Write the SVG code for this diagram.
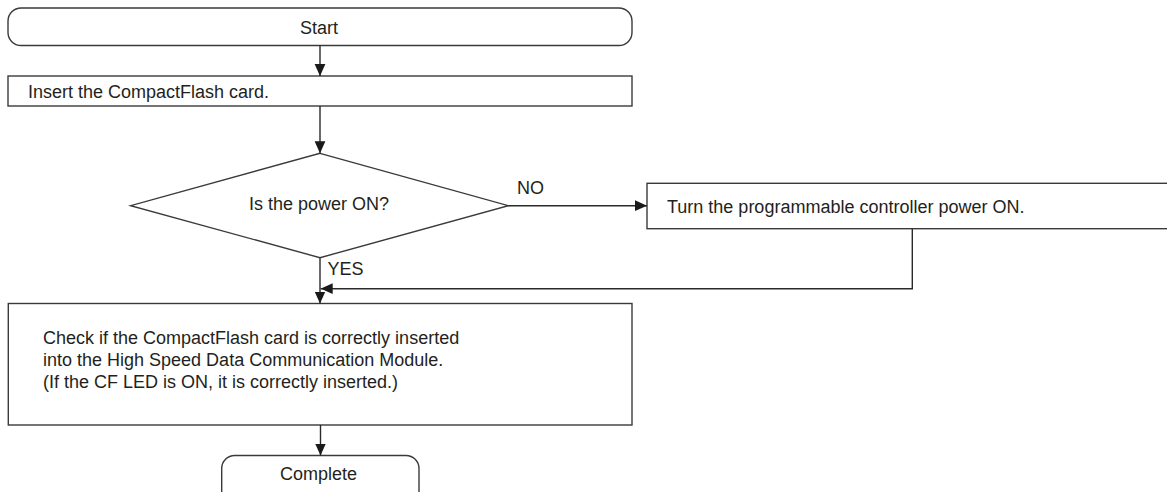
<svg xmlns="http://www.w3.org/2000/svg" width="1167" height="492" viewBox="0 0 1167 492">
<style>
.box{fill:#fff;stroke:#3a3a3a;stroke-width:1.4}
.ln{fill:none;stroke:#2a2a2a;stroke-width:1.4}
text{font-family:"Liberation Sans",Arial,sans-serif;font-size:18px;fill:#231f20}
.c{text-anchor:middle}
</style>
<defs>
<marker id="ah" markerUnits="userSpaceOnUse" markerWidth="12" markerHeight="12" viewBox="0 0 10 10" refX="10" refY="5" orient="auto">
<path d="M0,0.5 L10,5 L0,9.5 Z" fill="#1a1a1a"/>
</marker>
</defs>
<rect width="1167" height="492" fill="#fff"/>
<g id="start">
<rect class="box" x="8" y="8" width="624" height="37.5" rx="13" ry="13"/>
<text class="c" x="319" y="34">Start</text>
</g>
<g id="insert">
<rect class="box" x="8" y="76" width="624" height="30"/>
<text x="28" y="98">Insert the CompactFlash card.</text>
</g>
<g id="decision">
<polygon class="box" points="320,153.3 508.3,205.7 320,257.7 130.7,205.7"/>
<text class="c" x="319" y="210">Is the power ON?</text>
</g>
<g id="turnon">
<rect class="box" x="647" y="183.3" width="540" height="45.4"/>
<text x="667" y="213">Turn the programmable controller power ON.</text>
</g>
<g id="check">
<rect class="box" x="8.3" y="303.5" width="623.7" height="121.5"/>
<text x="43" y="343.5">Check if the CompactFlash card is correctly inserted</text>
<text x="43" y="365.5">into the High Speed Data Communication Module.</text>
<text x="43" y="387.5">(If the CF LED is ON, it is correctly inserted.)</text>
</g>
<g id="complete">
<rect class="box" x="221.7" y="455.5" width="197.3" height="50" rx="13" ry="13"/>
<text class="c" x="318.5" y="480">Complete</text>
</g>
<g id="connectors">
<line class="ln" x1="320" y1="45.5" x2="320" y2="76" marker-end="url(#ah)"/>
<line class="ln" x1="320" y1="106" x2="320" y2="153.3" marker-end="url(#ah)"/>
<line class="ln" x1="508.3" y1="205.7" x2="647" y2="205.7" marker-end="url(#ah)"/>
<line class="ln" x1="320" y1="257.7" x2="320" y2="303.5" marker-end="url(#ah)"/>
<polyline class="ln" points="912.3,228.7 912.3,288.7 320.7,288.7" marker-end="url(#ah)"/>
<line class="ln" x1="320.5" y1="425" x2="320.5" y2="455.5" marker-end="url(#ah)"/>
<text x="517" y="194">NO</text>
<text x="327.5" y="275">YES</text>
</g>
</svg>
